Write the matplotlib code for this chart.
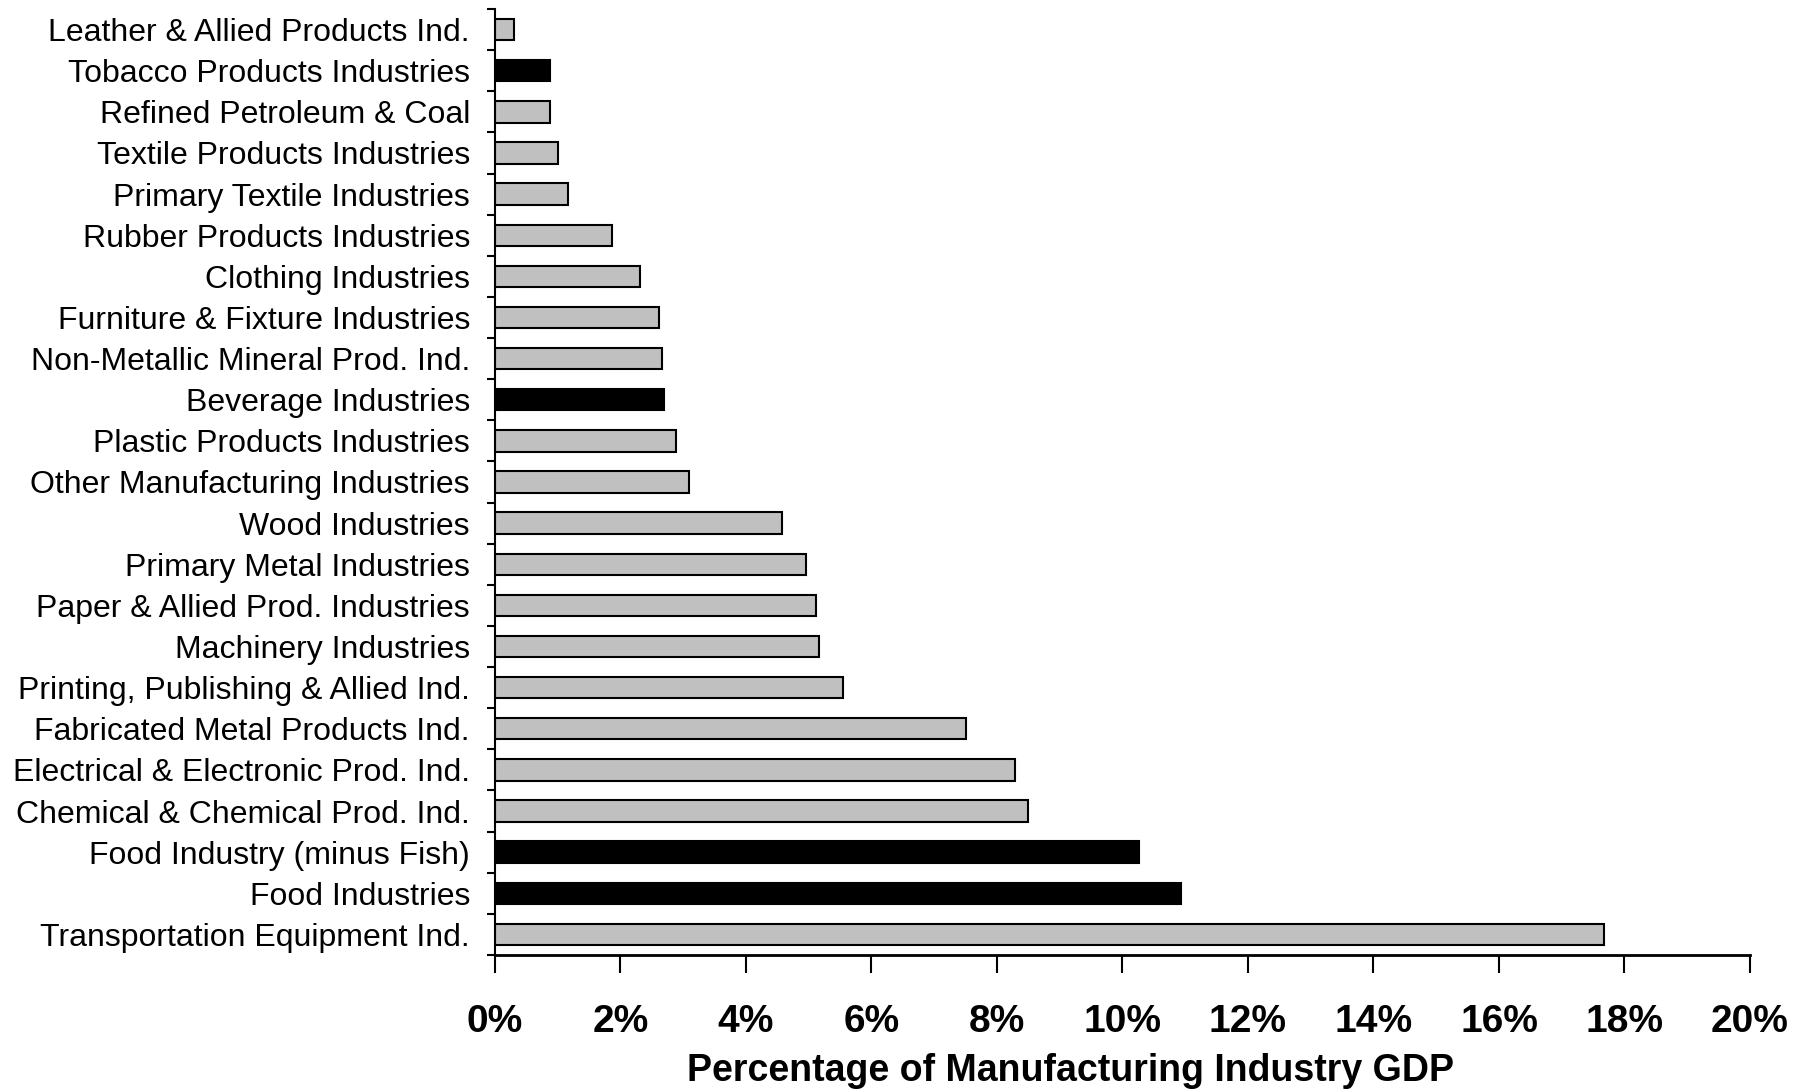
import matplotlib
matplotlib.use('Agg')
import matplotlib.pyplot as plt
from matplotlib.ticker import FixedLocator, PercentFormatter

plt.rcParams['font.family'] = ['Liberation Sans', 'DejaVu Sans']

# bottom to top, as drawn
industries = [
	'Transportation Equipment Ind.',
	'Food Industries',
	'Food Industry (minus Fish)',
	'Chemical & Chemical Prod. Ind.',
	'Electrical & Electronic Prod. Ind.',
	'Fabricated Metal Products Ind.',
	'Printing, Publishing & Allied Ind.',
	'Machinery Industries',
	'Paper & Allied Prod. Industries',
	'Primary Metal Industries',
	'Wood Industries',
	'Other Manufacturing Industries',
	'Plastic Products Industries',
	'Beverage Industries',
	'Non-Metallic Mineral Prod. Ind.',
	'Furniture & Fixture Industries',
	'Clothing Industries',
	'Rubber Products Industries',
	'Primary Textile Industries',
	'Textile Products Industries',
	'Refined Petroleum & Coal',
	'Tobacco Products Industries',
	'Leather & Allied Products Ind.',
]
share = [17.67, 10.94, 10.26, 8.50, 8.29, 7.50, 5.54, 5.16, 5.12, 4.95, 4.57,
	3.10, 2.88, 2.70, 2.66, 2.62, 2.31, 1.87, 1.17, 1.01, 0.88, 0.88, 0.31]
highlight = ['Food Industries', 'Food Industry (minus Fish)',
	'Beverage Industries', 'Tobacco Products Industries']

colors = ['black' if n in highlight else '#c0c0c0' for n in industries]

fig = plt.figure(figsize=(18.05, 10.9), dpi=100)
ax = fig.add_axes([0.2742, 0.1239, 0.6953, 0.8678])

ypos = list(range(len(industries)))
ax.barh(ypos, share, height=0.52, color=colors, edgecolor='black', linewidth=1.5)

ax.set_ylim(-0.5, len(industries) - 0.5)
ax.set_xlim(0, 20)

# ticks sit between the bars, labels in the middle
ax.yaxis.set_major_locator(FixedLocator([y - 0.5 for y in range(len(industries) + 1)]))
ax.yaxis.set_minor_locator(FixedLocator(ypos))
ax.set_yticklabels([], minor=False)
ax.set_yticklabels(industries, minor=True, fontsize=23)
ax.tick_params(axis='y', which='major', length=6, width=1.5, direction='out')
ax.tick_params(axis='y', which='minor', length=0, pad=18)

ax.set_xticks(range(0, 21, 2))
ax.xaxis.set_major_formatter(PercentFormatter(decimals=0))
ax.tick_params(axis='x', length=13, width=1.5, pad=22, labelsize=28)
for t in ax.get_xticklabels():
	t.set_fontweight('bold')

ax.set_xlabel('Percentage of Manufacturing Industry GDP', fontsize=27, fontweight='bold')
ax.xaxis.set_label_coords(0.459, -0.104)

ax.spines['right'].set_visible(False)
ax.spines['top'].set_visible(False)
ax.spines['left'].set_linewidth(1.5)
ax.spines['bottom'].set_linewidth(2)

fig.savefig('out.png', dpi=100)
